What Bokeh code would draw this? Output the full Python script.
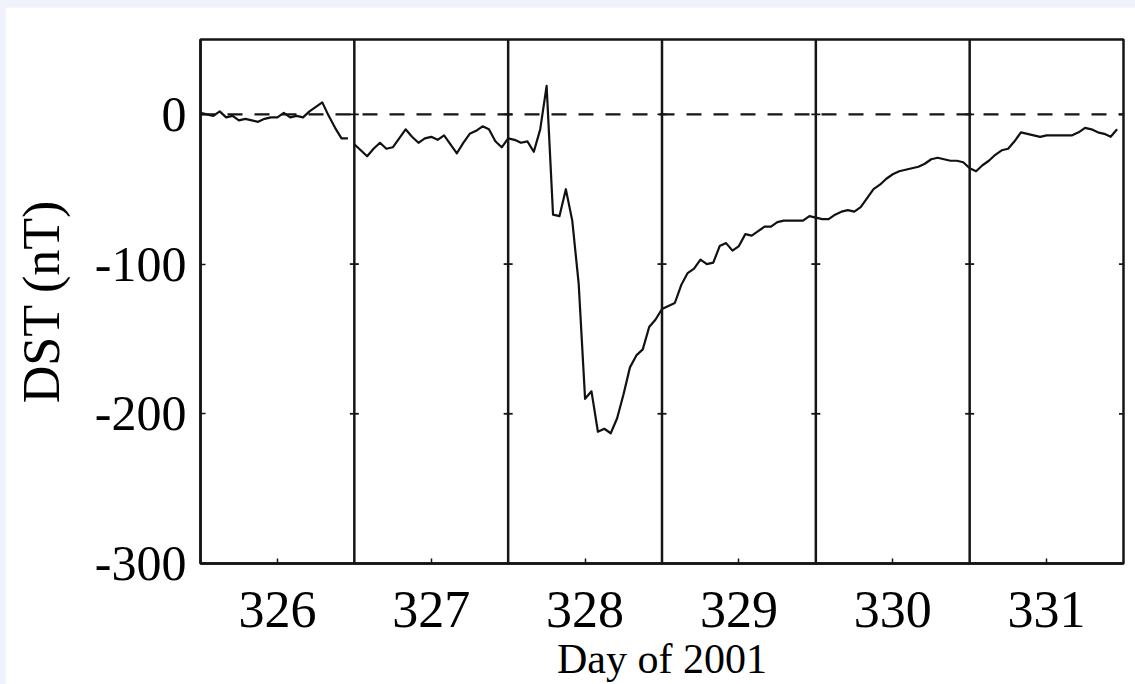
from bokeh.plotting import figure
from bokeh.models import Range1d, FixedTicker, Span
from bokeh.layouts import column
from bokeh.embed import file_html
from bokeh.resources import INLINE

# Hourly Dst index (nT), 00-23 UT, days 326-331 of 2001
days = [326, 327, 328, 329, 330, 331]
hours = list(range(24))

dst_326 = [1, 0, -1, 2, -2, -1, -4, -3, -4, -5, -3, -2,
           -2, 1, -2, -1, -2, 2, 5, 8, -1, -9, -16, -16]
dst_327 = [-20, -24, -28, -23, -19, -23, -22, -16, -10, -15, -19, -16,
           -15, -17, -14, -20, -26, -19, -13, -11, -8, -10, -18, -22]
dst_328 = [-16, -17, -19, -18, -25, -10, 19, -67, -68, -50, -71, -113,
           -190, -185, -212, -210, -213, -203, -187, -169, -161, -157, -142, -137]
dst_329 = [-130, -128, -126, -114, -106, -103, -97, -100, -99, -88, -86, -91,
           -88, -80, -81, -78, -75, -75, -72, -71, -71, -71, -71, -68]
dst_330 = [-69, -70, -70, -67, -65, -64, -65, -62, -56, -50, -47, -43,
           -40, -38, -37, -36, -35, -33, -30, -29, -30, -31, -31, -32]
dst_331 = [-36, -38, -34, -31, -27, -24, -23, -18, -12, -13, -14, -15,
           -14, -14, -14, -14, -14, -12, -9, -10, -12, -13, -15, -10]

y_ticks = [0, -100, -200, -300]
y_tick_labels = ["0", "-100", "-200", "-300"]
x_tick_labels = ["326", "327", "328", "329", "330", "331"]

SERIF = "Liberation Serif"
INK = "#151515"

p = figure(
    width=1130, height=677,
    x_range=Range1d(326, 332), y_range=Range1d(-300, 50),
    output_backend="svg", toolbar_location=None,
    min_border_left=195, min_border_right=12,
    min_border_top=32, min_border_bottom=121,
    background_fill_color="white", border_fill_color="white",
)
p.margin = (7, 0, 0, 5)
p.grid.visible = False
p.outline_line_color = INK
p.outline_line_width = 2.5

# y axis
p.yaxis.ticker = FixedTicker(ticks=y_ticks)
p.yaxis.major_label_overrides = {t: s for t, s in zip(y_ticks, y_tick_labels)}
p.yaxis.axis_label = "DST (nT)"
p.yaxis.axis_label_text_font = SERIF
p.yaxis.axis_label_text_font_size = "52px"
p.yaxis.axis_label_text_font_style = "normal"
p.yaxis.axis_label_standoff = 22
p.yaxis.major_label_text_font = SERIF
p.yaxis.major_label_text_font_size = "50px"
p.yaxis.major_label_standoff = 14

# x axis: labels sit at the middle of each day
day_mid = [d + 0.5 for d in days]
p.xaxis.ticker = FixedTicker(ticks=day_mid)
p.xaxis.major_label_overrides = {m: s for m, s in zip(day_mid, x_tick_labels)}
p.xaxis.axis_label = "Day of 2001"
p.xaxis.axis_label_text_font = SERIF
p.xaxis.axis_label_text_font_size = "42px"
p.xaxis.axis_label_text_font_style = "normal"
p.xaxis.axis_label_standoff = 6
p.xaxis.major_label_text_font = SERIF
p.xaxis.major_label_text_font_size = "52px"
p.xaxis.major_label_standoff = 28

for ax in (p.xaxis, p.yaxis):
    ax.axis_line_color = INK
    ax.axis_line_width = 2.5
    ax.major_tick_in = 5
    ax.major_tick_out = 0
    ax.major_tick_line_color = INK
    ax.major_tick_line_width = 1.5
    ax.minor_tick_line_color = None
    ax.major_label_text_color = "black"
    ax.axis_label_text_color = "black"

# zero reference
p.add_layout(Span(location=0, dimension="width", line_color=INK,
                  line_width=2.2, line_dash="15 12"))

# day boundaries
for d in days[1:]:
    p.add_layout(Span(location=d, dimension="height", line_color=INK,
                      line_width=2.5))

# tick crosses on each day boundary
edges = days[1:] + [days[-1] + 1]
tx = [e for e in edges for t in y_ticks[:-1]]
ty = [t for e in edges for t in y_ticks[:-1]]
p.scatter(tx, ty, marker="dash", size=9, line_color=INK, line_width=1.8)

series = [dst_326, dst_327, dst_328, dst_329, dst_330, dst_331]

def times(day):
    return [day + h / 24 for h in hours]

# day 326 record stands alone; days 327-331 form one continuous trace
xs = [times(days[0]), sum((times(d) for d in days[1:]), [])]
ys = [series[0], sum(series[1:], [])]
p.multi_line(xs, ys, line_color="#111111", line_width=2.2, line_join="round")

root = column(p, styles={"background-color": "#f1f3fc"})

open("out.html", "w").write(file_html(root, INLINE))
